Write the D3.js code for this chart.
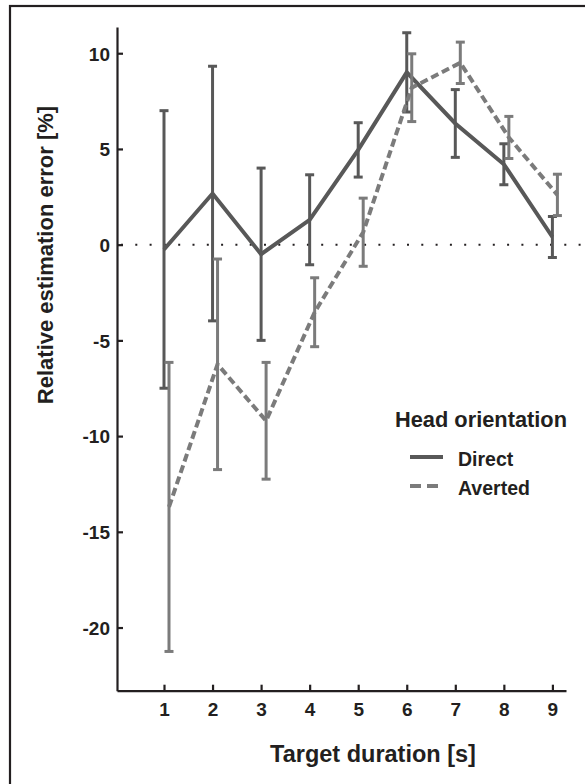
<!DOCTYPE html>
<html>
<head>
<meta charset="utf-8">
<script src="https://cdn.jsdelivr.net/npm/d3@7"></script>
<style>
  body { margin: 0; background: #fff; }
  svg { display: block; font-family: "Liberation Sans", Arial, sans-serif; }
</style>
</head>
<body>
<svg id="chart" width="585" height="784"></svg>
<script>
// values (relative estimation error, %)
const durations = [1, 2, 3, 4, 5, 6, 7, 8, 9];
const directMean = [-0.25, 2.67, -0.5, 1.3, 4.95, 9.0, 6.33, 4.2, 0.4];
const directErr = [7.25, 6.65, 4.5, 2.35, 1.42, 2.07, 1.77, 1.07, 1.07];
const avertedMean = [-13.7, -6.25, -9.2, -3.53, 0.65, 8.2, 9.5, 5.6, 2.6];
const avertedErr = [7.55, 5.5, 3.05, 1.8, 1.78, 1.77, 1.08, 1.1, 1.08];
const yTicks = [10, 5, 0, -5, -10, -15, -20];

const ink = "#231f20";
const series = [
  { name: "Direct", mean: directMean, err: directErr, color: "#585858", dash: null, dx: 0 },
  { name: "Averted", mean: avertedMean, err: avertedErr, color: "#7b7b7b", dash: "8,4", dx: 5 }
];

const svg = d3.select("#chart");

// outer frame (runs off the right and bottom edges)
svg.append("rect")
  .attr("x", 10).attr("y", 6)
  .attr("width", 600).attr("height", 800)
  .attr("fill", "none").attr("stroke", ink).attr("stroke-width", 2.2);

const x = d3.scaleLinear().domain([0.032, 9.28]).range([117, 566]);
const y = d3.scaleLinear().domain([-23.3, 11.37]).range([690.7, 27]);

// zero reference line
svg.append("line")
  .attr("x1", 121).attr("x2", 582)
  .attr("y1", y(0)).attr("y2", y(0))
  .attr("stroke", ink).attr("stroke-width", 2)
  .attr("stroke-dasharray", "2,12.3");

const xAxis = svg.append("g")
  .attr("transform", `translate(0,${y.range()[0]})`)
  .call(d3.axisBottom(x).tickValues(durations).tickFormat(d3.format("d"))
    .tickSize(-6).tickSizeOuter(0).tickPadding(12));

const yAxis = svg.append("g")
  .attr("transform", `translate(${x.range()[0]},0)`)
  .call(d3.axisLeft(y).tickValues(yTicks).tickFormat(d => String(d))
    .tickSize(-6).tickSizeOuter(0).tickPadding(7));

[xAxis, yAxis].forEach(g => {
  g.select(".domain").attr("stroke", ink).attr("stroke-width", 2.2);
  g.selectAll(".tick line").attr("stroke", ink).attr("stroke-width", 2.2);
  g.selectAll(".tick text")
    .attr("fill", ink)
    .style("font-size", "19px")
    .style("font-weight", "bold")
    .style("font-family", "'Liberation Sans', Arial, sans-serif");
});
yAxis.selectAll(".tick text").attr("dy", "0.36em");

// error bars, then the lines on top
series.forEach(s => {
  const g = svg.append("g").attr("transform", `translate(${s.dx},0)`);
  const rows = durations.map((d, i) => ({ t: d, m: s.mean[i], e: s.err[i] }));

  g.selectAll("line.bar").data(rows).enter().append("line")
    .attr("class", "bar")
    .attr("x1", d => x(d.t)).attr("x2", d => x(d.t))
    .attr("y1", d => y(d.m + d.e)).attr("y2", d => y(d.m - d.e))
    .attr("stroke", s.color).attr("stroke-width", 3);

  ["top", "bottom"].forEach(end => {
    g.selectAll("line.cap-" + end).data(rows).enter().append("line")
      .attr("class", "cap-" + end)
      .attr("x1", d => x(d.t) - 4.5).attr("x2", d => x(d.t) + 4.5)
      .attr("y1", d => y(end === "top" ? d.m + d.e : d.m - d.e))
      .attr("y2", d => y(end === "top" ? d.m + d.e : d.m - d.e))
      .attr("stroke", s.color).attr("stroke-width", 3);
  });

  const line = d3.line().x(d => x(d.t)).y(d => y(d.m));
  g.append("path")
    .datum(rows)
    .attr("fill", "none")
    .attr("stroke", s.color)
    .attr("stroke-width", 4)
    .attr("stroke-dasharray", s.dash)
    .attr("d", line);
});

// axis titles
svg.append("text")
  .attr("x", 373).attr("y", 762)
  .attr("text-anchor", "middle")
  .attr("fill", ink)
  .style("font-size", "23.5px").style("font-weight", "bold")
  .text("Target duration [s]");

svg.append("text")
  .attr("transform", "translate(53,255) rotate(-90)")
  .attr("text-anchor", "middle")
  .attr("fill", ink)
  .style("font-size", "22px").style("font-weight", "bold")
  .text("Relative estimation error [%]");

// legend
const legend = svg.append("g");
legend.append("text")
  .attr("x", 395).attr("y", 427)
  .attr("fill", ink)
  .style("font-size", "21.8px").style("font-weight", "bold")
  .text("Head orientation");

series.forEach((s, i) => {
  const ly = 457 + i * 29;
  legend.append("line")
    .attr("x1", 410).attr("x2", 443)
    .attr("y1", ly).attr("y2", ly)
    .attr("stroke", s.color).attr("stroke-width", 4)
    .attr("stroke-dasharray", s.dash ? "11,6" : null);
  legend.append("text")
    .attr("x", 458).attr("y", ly + 9)
    .attr("fill", ink)
    .style("font-size", "19.5px").style("font-weight", "bold")
    .text(s.name);
});
</script>
</body>
</html>
